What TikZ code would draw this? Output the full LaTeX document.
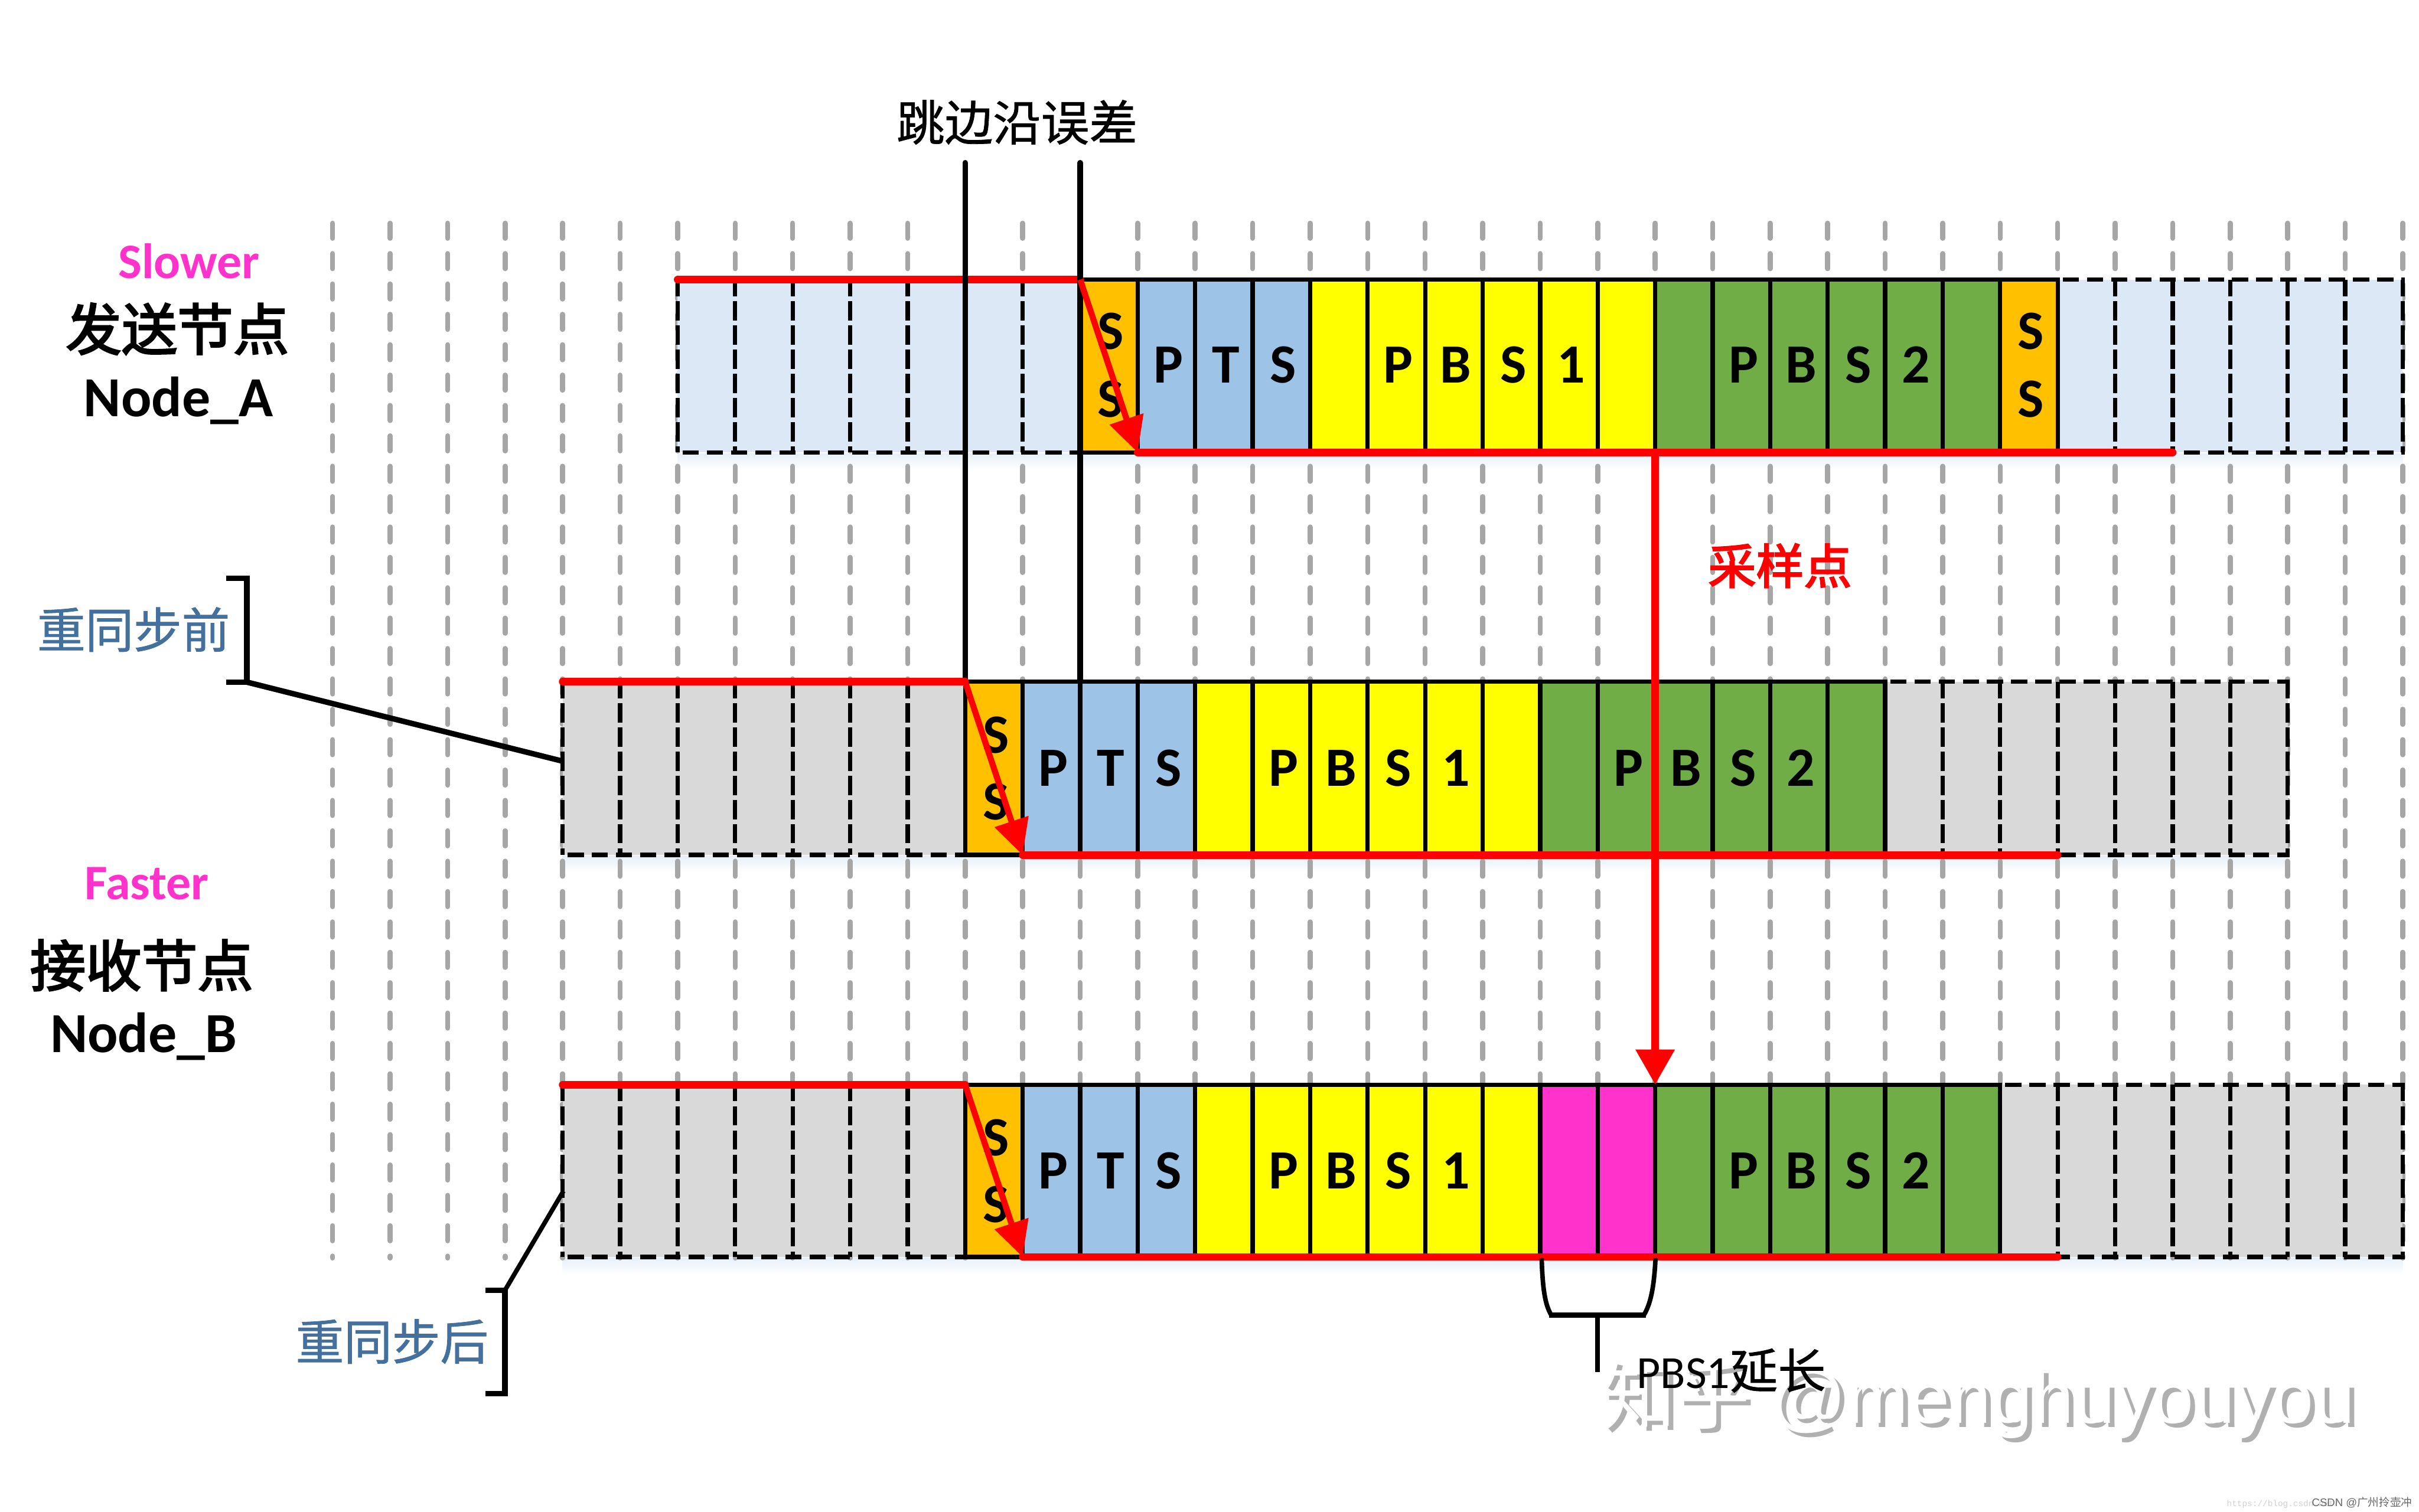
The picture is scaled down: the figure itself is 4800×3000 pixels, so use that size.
\documentclass[tikz,border=0pt]{standalone}
\usepackage{fontspec}
\usetikzlibrary{arrows.meta}
\setmainfont{Carlito}
\newfontfamily\cjk{Noto Sans CJK SC}
\newfontfamily\cjkl[FakeBold=1]{Noto Sans CJK SC}
\newfontfamily\cjkr[FakeBold=3]{Noto Sans CJK SC}
\newfontfamily\cjkn[FakeBold=3]{Noto Sans CJK SC}
\newfontfamily\arial{Liberation Sans}
\newfontfamily\monof{Liberation Mono}
\definecolor{gridgrey}{HTML}{A6A6A6}
\definecolor{cblue}{HTML}{9DC3E6}
\definecolor{cpale}{HTML}{DCE8F5}
\definecolor{cgrey}{HTML}{D9D9D9}
\definecolor{corange}{HTML}{FFC000}
\definecolor{cyellow}{HTML}{FFFF00}
\definecolor{cgreen}{HTML}{70AD47}
\definecolor{cpink}{HTML}{FF33CC}
\definecolor{cred}{HTML}{FF0000}
\definecolor{csteel}{HTML}{44709D}
\definecolor{cshadow}{HTML}{E6EFF8}
\definecolor{cmark}{HTML}{B0B0B0}
\tikzset{
  declare function={xk(\k)=1344.6+114.1*\k;},
  x=0.1mm,y=-0.1mm,
  gridline/.style={draw=gridgrey,line width=1mm,line cap=round,dash pattern=on 3mm off 3.03mm},
  cellsolid/.style={draw=black,line width=0.85mm},
  cellinner/.style={draw=black,line width=0.85mm,dash pattern=on 3.8mm off 1mm,dash phase=0.5mm},
  celledge/.style={draw=black,line width=0.85mm,dash pattern=on 3.2mm off 1.6mm},
  redline/.style={draw=cred,line width=1.5mm,line cap=round},
  redarrow/.style={draw=cred,line width=1.2mm,-{Triangle[length=7mm,width=6.8mm,fill=cred]}},
  sampleline/.style={draw=cred,line width=1.6mm,-{Triangle[length=7mm,width=7.4mm,fill=cred]}},
  blackline/.style={draw=black,line width=1.1mm,line cap=round},
  bracketline/.style={draw=black,line width=1.1mm},
  lett/.style={inner sep=0pt,anchor=base,font=\fontsize{31.3pt}{31.3pt}\selectfont\bfseries,text=black},
  nodename/.style={inner sep=0pt,anchor=base,font=\fontsize{32pt}{32pt}\selectfont\bfseries,text=black},
  nodecjk/.style={inner sep=0pt,anchor=base,font=\cjkn\fontsize{31.5pt}{31.5pt}\selectfont,text=black},
  speed/.style={inner sep=0pt,anchor=base,font=\fontsize{28pt}{28pt}\selectfont\bfseries,text=cpink},
  cjklabel/.style={inner sep=0pt,anchor=base,font=\cjkl\fontsize{27.2pt}{27.2pt}\selectfont},
  markfont/.style={inner sep=0pt,anchor=base west,font=\arial\fontsize{42pt}{42pt}\selectfont},
}
\newcommand{\segfill}[5]{\fill[#5] ({xk(#3)},#1) rectangle ({xk(#4)},#2);}
\newcommand{\segsolid}[4]{%
  \foreach \k in {#3,...,#4} {\draw[cellsolid] ({xk(\k)},#1) -- ({xk(\k)},#2);}
  \draw[cellsolid] ({xk(#3)-4},#1) -- ({xk(#4)+4},#1);
  \draw[cellsolid] ({xk(#3)-4},#2) -- ({xk(#4)+4},#2);}
\newcommand{\segdash}[5]{%
  \foreach \k in {#5} {\draw[cellinner] ({xk(\k)},#1) -- ({xk(\k)},#2);}
  \draw[celledge] ({xk(#3)+10},#1) -- ({xk(#4)+4},#1);
  \draw[celledge] ({xk(#3)+10},#2) -- ({xk(#4)+4},#2);}
\newcommand{\rowletters}[5]{% name, y, PTS start, PBS1 start, PBS2 start
  \foreach \t [count=\i from 0] in {P,T,S} {\node[lett,name=#1pts\i] at ({xk(#3+\i+0.5)+4},#2) {\t};}
  \foreach \t [count=\i from 0] in {P,B,S,1} {\node[lett,name=#1pa\i] at ({xk(#4+\i+1.5)+4},#2) {\t};}
  \foreach \t [count=\i from 0] in {P,B,S,2} {\node[lett,name=#1pb\i] at ({xk(#5+\i+1.5)+4},#2) {\t};}}
\begin{document}
\begin{tikzpicture}
\useasboundingbox (0,0) rectangle (4800,3000);
\fill[white] (0,0) rectangle (4800,3000);
% soft shadows under the rows
\shade[top color=cshadow,bottom color=white] ({xk(0)},900) rectangle ({xk(30)},932);
\shade[top color=cshadow,bottom color=white] ({xk(-2)},1699) rectangle ({xk(28)},1731);
\shade[top color=cshadow,bottom color=white] ({xk(-2)},2497) rectangle ({xk(30)},2529);
% background grid
\foreach \k in {-6,...,30} {\draw[gridline] ({xk(\k)},443) -- ({xk(\k)},2497);}
% ---- row 1
\segfill{555}{898}{0}{7}{cpale}
\segfill{555}{898}{7}{8}{corange}
\segfill{555}{898}{8}{11}{cblue}
\segfill{555}{898}{11}{17}{cyellow}
\segfill{555}{898}{17}{23}{cgreen}
\segfill{555}{898}{23}{24}{corange}
\segfill{555}{898}{24}{30}{cpale}
\segdash{555}{898}{0}{7}{0,1,2,3,4,5,6}
\segdash{555}{898}{24}{30}{25,26,27,28,29,30}
\segsolid{555}{898}{7}{24}
% ---- row 2
\segfill{1353}{1697}{-2}{5}{cgrey}
\segfill{1353}{1697}{5}{6}{corange}
\segfill{1353}{1697}{6}{9}{cblue}
\segfill{1353}{1697}{9}{15}{cyellow}
\segfill{1353}{1697}{15}{21}{cgreen}
\segfill{1353}{1697}{21}{28}{cgrey}
\segdash{1353}{1697}{-2}{5}{-2,-1,0,1,2,3,4}
\segdash{1353}{1697}{21}{28}{22,23,24,25,26,27,28}
\segsolid{1353}{1697}{5}{21}
% ---- row 3
\segfill{2153}{2495}{-2}{5}{cgrey}
\segfill{2153}{2495}{5}{6}{corange}
\segfill{2153}{2495}{6}{9}{cblue}
\segfill{2153}{2495}{9}{15}{cyellow}
\segfill{2153}{2495}{15}{17}{cpink}
\segfill{2153}{2495}{17}{23}{cgreen}
\segfill{2153}{2495}{23}{30}{cgrey}
\segdash{2153}{2495}{-2}{5}{-2,-1,0,1,2,3,4}
\segdash{2153}{2495}{23}{30}{24,25,26,27,28,29,30}
\segsolid{2153}{2495}{5}{23}
% ---- cell letters
\node[lett] (ssa1) at ({xk(7.5)+4},693) {S};
\node[lett] (ssa2) at ({xk(7.5)+4},828) {S};
\node[lett] (ssa3) at ({xk(23.5)+4},693) {S};
\node[lett] (ssa4) at ({xk(23.5)+4},828) {S};
\rowletters{ra}{760}{8}{11}{17}
\node[lett] (ssb1) at ({xk(5.5)+4},1495) {S};
\node[lett] (ssb2) at ({xk(5.5)+4},1627) {S};
\rowletters{rb}{1560}{6}{9}{15}
\node[lett] (ssc1) at ({xk(5.5)+4},2294) {S};
\node[lett] (ssc2) at ({xk(5.5)+4},2426) {S};
\rowletters{rc}{2359}{6}{9}{17}
% ---- connection points
\coordinate (a0) at ({xk(0)},555);
\coordinate (a1) at ({xk(7)},555);
\coordinate (a2) at ({xk(8)},898);
\coordinate (a3) at ({xk(26)},898);
\coordinate (b0) at ({xk(-2)},1353);
\coordinate (b1) at ({xk(5)},1353);
\coordinate (b2) at ({xk(6)},1697);
\coordinate (b3) at ({xk(24)},1697);
\coordinate (c0) at ({xk(-2)},2153);
\coordinate (c1) at ({xk(5)},2153);
\coordinate (c2) at ({xk(6)},2495);
\coordinate (c3) at ({xk(24)},2495);
\coordinate (s0) at ({xk(17)},898);
\coordinate (s1) at ({xk(17)},2153);
\coordinate (e0) at ({xk(5)},323);
\coordinate (e1) at ({xk(7)},323);
\coordinate (e2) at (b1);
\coordinate (e3) at ({xk(7)},1353);
% ---- red traces
\draw[redline] (a0) -- (a1);
\draw[blackline] (e0) -- (e2);
\draw[blackline] (e1) -- (e3);
\draw[redarrow] (a1) -- (a2);
\draw[redline] (a2) -- (a3);
\draw[redline] (b0) -- (b1);
\draw[redarrow] (b1) -- (b2);
\draw[redline] (b2) -- (b3);
\draw[redline] (c0) -- (c1);
\draw[redarrow] (c1) -- (c2);
\draw[redline] (c2) -- (c3);
\draw[sampleline] (s0) -- (s1);
% ---- brackets
\coordinate (p1) at (449,1148); \coordinate (p2) at (490,1148);
\coordinate (p3) at (490,1354); \coordinate (p4) at (449,1354);
\coordinate (p5) at (1117,1511);
\draw[bracketline] (p1) -- (p2) -- (p3) -- (p4);
\draw[bracketline] (p3) -- (p5);
\coordinate (q1) at (963,2561); \coordinate (q2) at (1002,2561);
\coordinate (q3) at (1002,2766); \coordinate (q4) at (963,2766);
\coordinate (q5) at (1118,2364);
\draw[bracketline] (q1) -- (q2) -- (q3) -- (q4);
\draw[draw=black,line width=0.9mm] (q2) -- (q5);
% ---- PBS1 brace
\coordinate (r1) at (3059,2497); \coordinate (r2) at (3078,2610);
\coordinate (r3) at (3262,2610); \coordinate (r4) at (3285,2497);
\coordinate (r5) at (3170,2610); \coordinate (r6) at (3170,2723);
\draw[draw=black,line width=0.9mm] (r1) .. controls (3061,2560) and (3066,2590) .. (r2);
\draw[draw=black,line width=0.9mm] (r3) .. controls (3274,2590) and (3282,2560) .. (r4);
\draw[draw=black,line width=1.1mm] (3074,2610) -- (3266,2610);
\draw[draw=black,line width=0.9mm] (r5) -- (r6);
% ---- labels
\node[cjklabel] (edgeerr) at (2018,279) {跳边沿误差};
\node[speed] (slower) at (375,552) {Slower};
\node[nodecjk] (sender) at (352,695) {发送节点};
\node[nodename] (nodea) at (354,827) {Node\_A};
\node[speed] (faster) at (291,1785) {Faster};
\node[nodecjk] (recv) at (281,1958) {接收节点};
\node[nodename] (nodeb) at (285,2089) {Node\_B};
\node[cjklabel,text=csteel] (before) at (265,1286) {重同步前};
\node[cjklabel,text=csteel] (after) at (778,2699) {重同步后};
\node[inner sep=0pt,anchor=base,font=\cjkr\fontsize{27pt}{27pt}\selectfont,text=cred] (sample) at (3532,1159) {采样点};
% ---- watermarks
\node[markfont,text=cmark] (markshadow) at (3186,2833) {{\cjk 知乎} @menghuyouyou};
\node[markfont,text=white] (markface) at (3177,2825) {{\cjk 知乎} @menghuyouyou};
\node[inner sep=0pt,anchor=base west,font=\fontsize{26pt}{26pt}\selectfont] (ext) at (3247,2756) {PBS1{\cjkl\fontsize{27pt}{27pt}\selectfont 延长}};
\node[inner sep=0pt,anchor=base west,font=\monof\fontsize{4.8pt}{4.8pt}\selectfont,text=black!18] (blogurl) at (4418,2990) {https://blog.csdn.net/};
\node[inner sep=0pt,anchor=base east,font=\arial\fontsize{6.2pt}{6.2pt}\selectfont,text=black!60] (csdn) at (4787,2990) {CSDN @{\cjk 广州拎壶冲}};
\end{tikzpicture}
\end{document}
